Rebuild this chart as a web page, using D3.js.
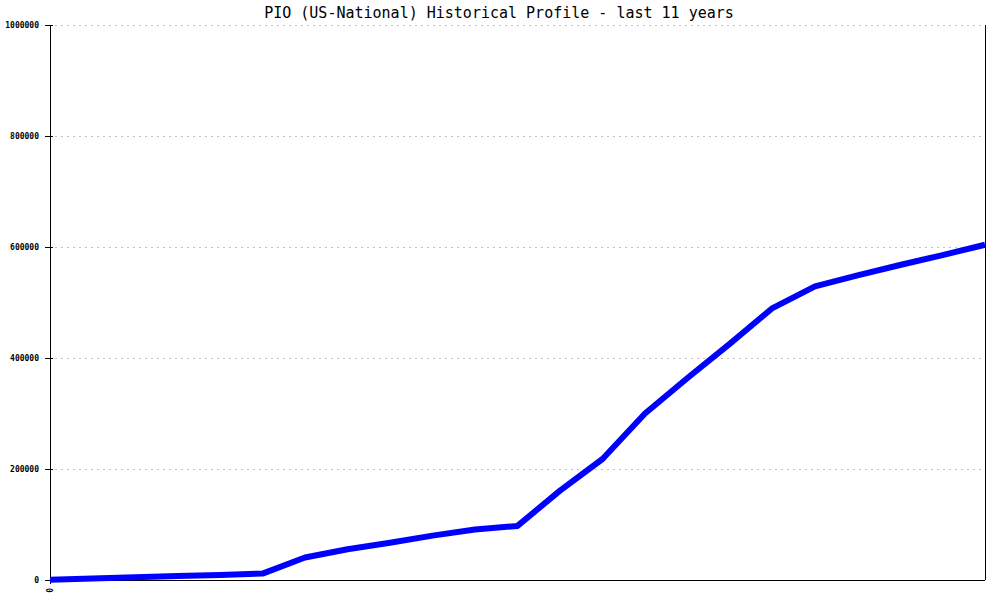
<!DOCTYPE html>
<html>
<head>
<meta charset="utf-8">
<script src="https://cdn.jsdelivr.net/npm/d3@7"></script>
<style>
  body { margin: 0; background: #fff; }
  svg text { font-family: "DejaVu Sans Mono", monospace; }
</style>
</head>
<body>
<svg id="chart" width="1000" height="600"></svg>
<script>
// half-year samples over the last 11 years
const periods = [0, 1, 2, 3, 4, 5, 6, 7, 8, 9, 10, 11, 12, 13, 14, 15, 16, 17, 18, 19, 20, 21, 22];
const values = [500, 2500, 4800, 7000, 9200, 11500, 40500, 55500, 67000, 80000, 91000, 97500,
  161000, 218000, 300000, 364000, 426000, 490000, 529000, 549000, 567500, 585500, 604000];
const yTicks = [0, 200000, 400000, 600000, 800000, 1000000];
const xTicks = [0];
const title = 'PIO (US-National) Historical Profile - last 11 years';

const svg = d3.select('#chart');
const margin = { top: 25, right: 15, bottom: 20, left: 50 };
const width = 1000 - margin.left - margin.right;
const height = 600 - margin.top - margin.bottom;

const x = d3.scaleLinear().domain([0, periods.length - 1]).range([0, width]);
const y = d3.scaleLinear().domain([0, 1000000]).range([height, 0]);

const g = svg.append('g').attr('transform', `translate(${margin.left},${margin.top})`);

// dotted grid
g.selectAll('line.grid')
  .data(yTicks)
  .enter()
  .append('line')
  .attr('class', 'grid')
  .attr('x1', 5)
  .attr('x2', width - 4)
  .attr('y1', d => Math.round(y(d)) + 0.5)
  .attr('y2', d => Math.round(y(d)) + 0.5)
  .attr('stroke', '#c0c0c0')
  .attr('stroke-dasharray', '2,4');

// y axis
const yAxis = g.append('g')
  .call(d3.axisLeft(y).tickValues(yTicks).tickFormat(d3.format('d')).tickSize(5).tickPadding(6));
yAxis.select('.domain').remove();
yAxis.selectAll('.tick line').attr('x2', -5).attr('x1', 3).attr('stroke', '#000');
yAxis.selectAll('.tick text')
  .attr('font-size', 8)
  .attr('font-weight', 'bold')
  .attr('fill', '#000')
  .style('font-family', '"DejaVu Sans Mono", monospace');

// axis lines: left, bottom, right
g.append('line').attr('x1', 0.5).attr('x2', 0.5).attr('y1', 0).attr('y2', height + 4).attr('stroke', '#000');
g.append('line').attr('x1', 0).attr('x2', width).attr('y1', height + 0.5).attr('y2', height + 0.5).attr('stroke', '#000');
g.append('line').attr('x1', width + 0.5).attr('x2', width + 0.5).attr('y1', 0).attr('y2', height).attr('stroke', '#000');

// x labels (rotated)
g.selectAll('text.xlab')
  .data(xTicks)
  .enter()
  .append('text')
  .attr('class', 'xlab')
  .attr('transform', d => `translate(${x(d) + 3},${height + 8}) rotate(-90)`)
  .attr('text-anchor', 'end')
  .attr('font-size', 8)
  .attr('font-weight', 'bold')
  .text(d => d);

// series line
const line = d3.line()
  .x((d, i) => x(periods[i]))
  .y(d => y(d));

g.append('path')
  .datum(values)
  .attr('fill', 'none')
  .attr('stroke', '#0000ff')
  .attr('stroke-width', 6)
  .attr('stroke-linejoin', 'round')
  .attr('d', line);

// title
svg.append('text')
  .attr('x', 499)
  .attr('y', 18)
  .attr('text-anchor', 'middle')
  .attr('font-size', 15)
  .attr('fill', '#000')
  .text(title);
</script>
</body>
</html>
